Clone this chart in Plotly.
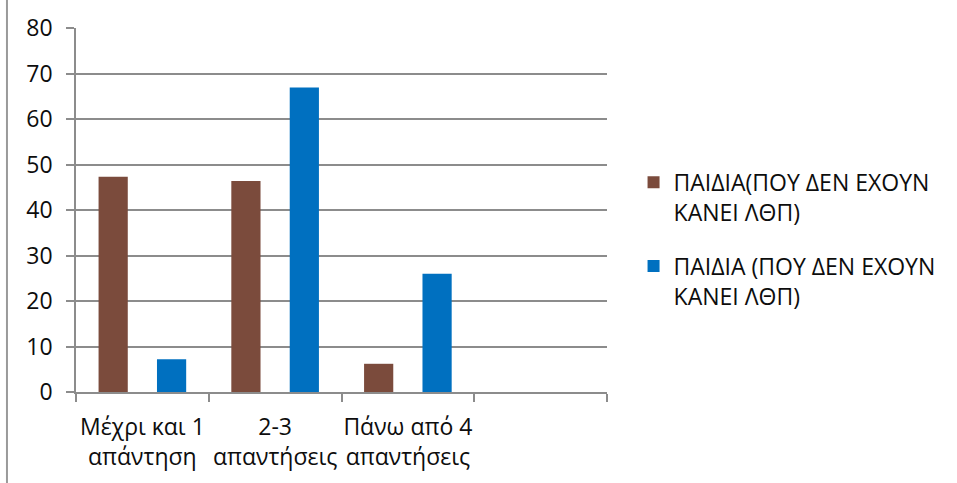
import plotly.graph_objects as go

categories = ["Μέχρι και 1<br>απάντηση", "2-3<br>απαντήσεις", "Πάνω από 4<br>απαντήσεις", " "]
series1_name = "ΠΑΙΔΙΑ(ΠΟΥ ΔΕΝ ΕΧΟΥΝ<br>ΚΑΝΕΙ ΛΘΠ)"
series2_name = "ΠΑΙΔΙΑ (ΠΟΥ ΔΕΝ ΕΧΟΥΝ<br>ΚΑΝΕΙ ΛΘΠ)"
series1 = [47.3, 46.4, 6.2, None]
series2 = [7.2, 66.9, 26.0, None]
y_ticks = [0, 10, 20, 30, 40, 50, 60, 70, 80]

FONT = "Open Sans"
TXT = "#0d0d0d"
GRID = "#8c8c8c"

fig = go.Figure()
fig.add_trace(go.Bar(x=categories, y=series1, name=series1_name,
                     marker=dict(color="#7B4B3C", line=dict(width=0)),
                     legendgroup="a"))
fig.add_trace(go.Bar(x=categories, y=series2, name=series2_name,
                     marker=dict(color="#0070C0", line=dict(width=0)),
                     legendgroup="b"))

fig.update_layout(
    width=957, height=483,
    margin=dict(l=76, r=350, t=28, b=91, pad=0, autoexpand=False),
    paper_bgcolor="white", plot_bgcolor="white",
    barmode="group", bargap=0.12, bargroupgap=0.5,
    font=dict(family=FONT, color=TXT, size=23),
    showlegend=True,
    legend=dict(x=1.05, xanchor="left", y=0.635, yanchor="top",
                font=dict(family=FONT, size=23, color=TXT),
                traceorder="grouped", tracegroupgap=21, valign="top",
                bgcolor="rgba(0,0,0,0)"),
    xaxis=dict(type="category", categoryorder="array", categoryarray=categories,
               range=[-0.5, 3.5], showgrid=False, showline=True, linecolor=GRID,
               linewidth=1.5, ticks="outside", tickson="boundaries", ticklen=8,
               tickcolor=GRID, tickwidth=1.5, tickfont=dict(size=23, color=TXT),
               ticklabelstandoff=14,
               tickangle=0, automargin=False, fixedrange=True),
    yaxis=dict(range=[0, 80], tickvals=y_ticks, showgrid=True, gridcolor=GRID,
               gridwidth=1.5, showline=True, linecolor=GRID, linewidth=1.5,
               ticks="outside", ticklen=8, tickcolor=GRID, tickwidth=1.5,
               tickfont=dict(size=23, color=TXT), ticklabelstandoff=9,
               zeroline=False, automargin=False, fixedrange=True),
)

# outer chart frame left edge
fig.add_shape(type="line", xref="paper", yref="paper",
              x0=-0.13, x1=-0.13, y0=-0.5, y1=1.2,
              line=dict(color="#9a9a9a", width=2))

fig.write_html("out.html")
